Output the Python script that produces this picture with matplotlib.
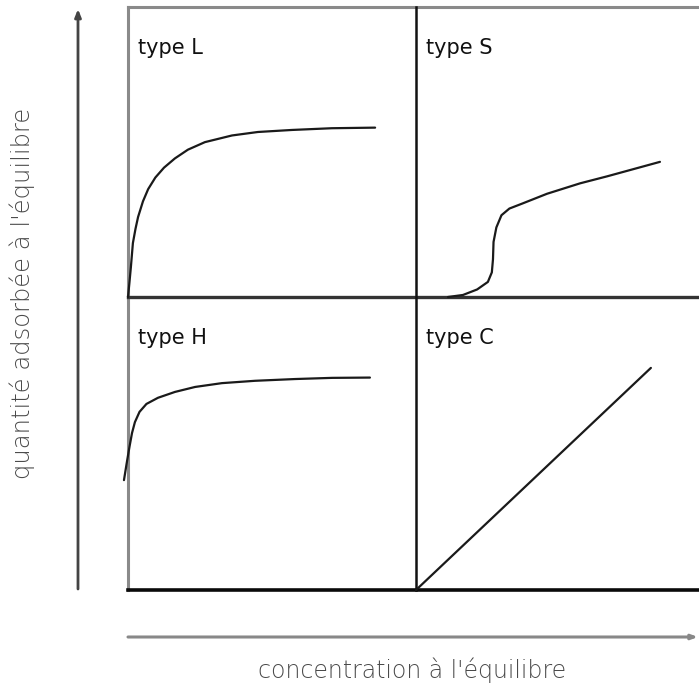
import matplotlib
matplotlib.use("Agg")
import matplotlib.pyplot as plt

# ---- data (arbitrary units: 0-100 across each panel) ----
L_x = [0, 0.5, 1.0, 1.7, 2.6, 3.5, 5.2, 7.0, 9.5, 12.5, 16.3, 20.8, 26.7, 36.1, 45.1, 56.9, 70.8, 85.8]
L_y = [0, 5.0, 10.3, 18.6, 23.5, 27.6, 33.0, 37.2, 41.2, 44.6, 47.8, 50.8, 53.4, 55.7, 56.9, 57.6, 58.2, 58.4]

S_x = [11.3, 16.6, 21.6, 25.4, 26.8, 27.2, 27.4, 28.4, 30.2, 33.0, 37.5, 46.3, 58.0, 67.5, 86.2]
S_y = [0, 0.7, 2.6, 5.2, 8.5, 13.0, 19.0, 24.0, 28.2, 30.5, 32.2, 35.6, 39.2, 41.6, 46.6]

H_x = [-1.4, -0.5, 0.5, 1.4, 2.4, 4.0, 6.4, 10.4, 16.3, 23.3, 32.6, 44.1, 58.0, 70.8, 84.0]
H_y = [37.5, 43.0, 48.8, 53.6, 57.3, 60.8, 63.5, 65.6, 67.6, 69.3, 70.6, 71.4, 72.0, 72.4, 72.5]

C_x = [0, 83.0]
C_y = [0, 75.8]

titles = ["type L", "type S", "type H", "type C"]
xlabel = "concentration à l'équilibre"
ylabel = "quantité adsorbée à l'équilibre"

W, H = 699, 686
fig = plt.figure(figsize=(W / 100, H / 100), dpi=100)

# overlay in pixel coordinates for the frame and arrows
ov = fig.add_axes([0, 0, 1, 1])
ov.set_xlim(0, W)
ov.set_ylim(H, 0)
ov.axis("off")

xl, xm, xr = 128, 416, 699
yt, ym, yb = 7, 297, 590

def fr(x0, x1, y0, y1):
    return [x0 / W, 1 - y1 / H, (x1 - x0) / W, (y1 - y0) / H]

panels = [
    (fr(xl, xm, yt, ym), L_x, L_y, titles[0]),
    (fr(xm, xr, yt, ym), S_x, S_y, titles[1]),
    (fr(xl, xm, ym, yb), H_x, H_y, titles[2]),
    (fr(xm, xr, ym, yb), C_x, C_y, titles[3]),
]
for rect, xs, ys, t in panels:
    ax = fig.add_axes(rect)
    ax.set_xlim(0, 100)
    ax.set_ylim(0, 100)
    ax.axis("off")
    ax.patch.set_alpha(0)
    ax.plot(xs, ys, color="#1a1a1a", lw=1.6, clip_on=False,
            solid_capstyle="round", solid_joinstyle="round")
    ax.text(3.5, 86, t, fontsize=15, family="DejaVu Sans", color="#111111",
            va="center", ha="left")

# frame lines
ov.plot([xl, xr], [yt, yt], color="#8a8a8a", lw=2.2)
ov.plot([xl, xl], [yt, yb], color="#8a8a8a", lw=2.2)
ov.plot([xl, xr], [ym, ym], color="#333333", lw=2.4)
ov.plot([xm, xm], [yt, yb], color="#111111", lw=1.8)
ov.plot([xl, xr], [yb, yb], color="#0a0a0a", lw=2.6)

# arrows
ov.annotate("", xy=(78, 9), xytext=(78, 589),
            arrowprops=dict(arrowstyle="-|>,head_length=0.45,head_width=0.18",
                            color="#444444", lw=2.0, shrinkA=0, shrinkB=0))
ov.annotate("", xy=(698, 637), xytext=(128, 637),
            arrowprops=dict(arrowstyle="-|>,head_length=0.35,head_width=0.13",
                            color="#888888", lw=2.2, shrinkA=0, shrinkB=0))

ov.text(412, 670, xlabel, fontsize=17, color="#4a4a4a", ha="center", va="center",
        family="DejaVu Sans", fontweight="light")
ov.text(22, 293, ylabel, fontsize=17.5, color="#4a4a4a", ha="center", va="center",
        rotation=90, family="DejaVu Sans", fontweight="light")

fig.savefig("out.png", dpi=100)
